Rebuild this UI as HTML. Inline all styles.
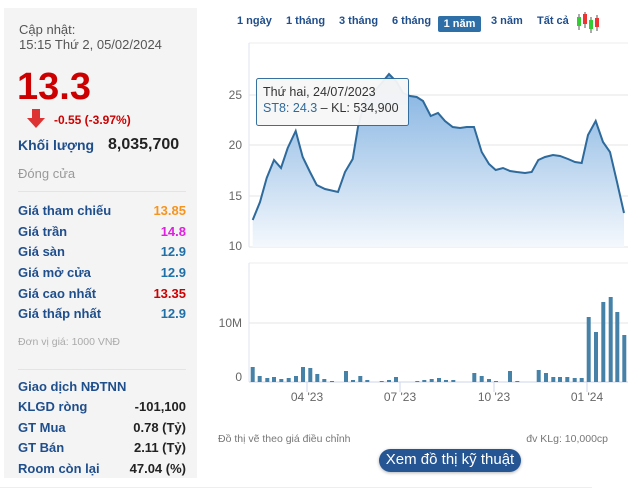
<!DOCTYPE html>
<html><head><meta charset="utf-8"><style>
body{margin:0;width:640px;height:492px;background:#fff;font-family:"Liberation Sans",Arial,sans-serif;position:relative;overflow:hidden}
.a{position:absolute;white-space:nowrap}
.lp{position:absolute;left:4px;top:8px;width:193px;height:470px;background:#f4f4f4}
.lb{color:#1f4e8c;font-weight:bold;font-size:13px}
.rv{font-weight:bold;font-size:13px;text-align:right;right:454px}
.tb{position:absolute;top:15px;font-size:11px;font-weight:bold;color:#1f4e8c}
</style></head><body>
<div class="lp"></div>
<div class="a" style="left:19px;top:22px;font-size:13px;color:#555">Cập nhật:</div>
<div class="a" style="left:19px;top:37px;font-size:13px;color:#555">15:15 Thứ 2, 05/02/2024</div>
<div class="a" style="left:17px;top:66px;font-size:38px;font-weight:bold;color:#cc0000">13.3</div>
<svg class="a" style="left:27px;top:109px" width="18" height="20"><rect x="5" y="0" width="8" height="9" fill="#d33"/><polygon points="0,9 18,9 9,19" fill="#d33"/></svg>
<div class="a" style="left:54px;top:113px;font-size:12px;font-weight:bold;color:#cc0000">-0.55 (-3.97%)</div>
<div class="a lb" style="left:18px;top:137px;font-size:14px">Khối lượng</div>
<div class="a" style="left:108px;top:136px;font-size:16px;font-weight:bold;color:#222">8,035,700</div>
<div class="a" style="left:18px;top:166px;font-size:13px;color:#999">Đóng cửa</div>
<div class="a" style="left:18px;top:191px;width:168px;border-top:1px solid #e4e4e4"></div>
<div class="a lb" style="left:18px;top:203px">Giá tham chiếu</div><div class="a rv" style="top:203px;color:#f7941d">13.85</div>
<div class="a lb" style="left:18px;top:224px">Giá trần</div><div class="a rv" style="top:224px;color:#e020e0">14.8</div>
<div class="a lb" style="left:18px;top:244px">Giá sàn</div><div class="a rv" style="top:244px;color:#1f6fa8">12.9</div>
<div class="a lb" style="left:18px;top:265px">Giá mở cửa</div><div class="a rv" style="top:265px;color:#1f6fa8">12.9</div>
<div class="a lb" style="left:18px;top:286px">Giá cao nhất</div><div class="a rv" style="top:286px;color:#cc0000">13.35</div>
<div class="a lb" style="left:18px;top:306px">Giá thấp nhất</div><div class="a rv" style="top:306px;color:#1f6fa8">12.9</div>
<div class="a" style="left:18px;top:336px;font-size:10.5px;color:#aaa">Đơn vị giá: 1000 VNĐ</div>
<div class="a" style="left:18px;top:369px;width:168px;border-top:1px solid #e4e4e4"></div>
<div class="a lb" style="left:18px;top:379px">Giao dịch NĐTNN</div>
<div class="a lb" style="left:18px;top:399px">KLGD ròng</div><div class="a rv" style="top:399px;color:#222">-101,100</div>
<div class="a lb" style="left:18px;top:420px">GT Mua</div><div class="a rv" style="top:420px;color:#222">0.78 (Tỷ)</div>
<div class="a lb" style="left:18px;top:440px">GT Bán</div><div class="a rv" style="top:440px;color:#222">2.11 (Tỷ)</div>
<div class="a lb" style="left:18px;top:461px">Room còn lại</div><div class="a rv" style="top:461px;color:#222">47.04 (%)</div>
<div class="a" style="left:0;top:487px;width:592px;border-top:1px solid #eee"></div>

<div class="tb" style="left:237px">1 ngày</div>
<div class="tb" style="left:286px">1 tháng</div>
<div class="tb" style="left:339px">3 tháng</div>
<div class="tb" style="left:392px">6 tháng</div>
<div class="tb" style="left:438px;top:16px;width:43px;height:16px;background:#2f6fa8;color:#fff;border-radius:2px;text-align:center;line-height:16px">1 năm</div>
<div class="tb" style="left:491px">3 năm</div>
<div class="tb" style="left:537px">Tất cả</div>
<svg class="a" style="left:576px;top:12px" width="24" height="22"><line x1="3" y1="2" x2="3" y2="18" stroke="#555"/><rect x="1" y="5" width="4" height="9" fill="#3c3"/><line x1="9" y1="0" x2="9" y2="16" stroke="#555"/><rect x="7" y="2" width="4" height="10" fill="#e33"/><line x1="15" y1="5" x2="15" y2="21" stroke="#555"/><rect x="13" y="8" width="4" height="9" fill="#3c3"/><line x1="21" y1="3" x2="21" y2="19" stroke="#555"/><rect x="19" y="6" width="4" height="9" fill="#e33"/></svg>

<svg class="a" style="left:0;top:0" width="640" height="492">
<defs><linearGradient id="g" x1="0" y1="0" x2="0" y2="1"><stop offset="0" stop-color="#7fb0e0"/><stop offset="1" stop-color="#f4f8fd"/></linearGradient></defs>
<line x1="249" y1="43" x2="628" y2="43" stroke="#eee"/>
<line x1="249" y1="95" x2="628" y2="95" stroke="#e6e6e6"/>
<line x1="249" y1="145" x2="628" y2="145" stroke="#e6e6e6"/>
<line x1="249" y1="196" x2="628" y2="196" stroke="#e6e6e6"/>
<line x1="249" y1="247" x2="628" y2="247" stroke="#e6e6e6"/>
<line x1="249" y1="43" x2="249" y2="247" stroke="#dde3f0"/>
<g font-size="12" fill="#666" text-anchor="end"><text x="242" y="99">25</text><text x="242" y="149">20</text><text x="242" y="200">15</text><text x="242" y="250">10</text></g>
<path d="M252.7,220 L260,202 266.7,178 274,160 281,168 287.7,148 295.7,131 302.7,157 310,172 316.7,185 325,189 338,192 345,172 352.7,159 358,127 365,100 373,93 381.7,83 389,74 396.7,82 403,93 410,96 416.7,97 423,101 430.7,116 438,113 445,121 452.7,127 460,128 466.7,127 474,127 481.7,152 489,164 495.7,170 503,168 510,171 516.7,172 525,173 531.7,172 538.3,160 545,157 553,155 560,156 568,159 575,162 581.7,163 588,135 595.7,121 603,142 610,152 617,182 624,213 L624,247 L252.7,247 Z" fill="url(#g)"/>
<polyline fill="none" stroke="#2e6a9b" stroke-width="2" points="252.7,220 260,202 266.7,178 274,160 281,168 287.7,148 295.7,131 302.7,157 310,172 316.7,185 325,189 338,192 345,172 352.7,159 358,127 365,100 373,93 381.7,83 389,74 396.7,82 403,93 410,96 416.7,97 423,101 430.7,116 438,113 445,121 452.7,127 460,128 466.7,127 474,127 481.7,152 489,164 495.7,170 503,168 510,171 516.7,172 525,173 531.7,172 538.3,160 545,157 553,155 560,156 568,159 575,162 581.7,163 588,135 595.7,121 603,142 610,152 617,182 624,213"/>
<rect x="256.5" y="78.5" width="152" height="47" fill="#f7f7f7" stroke="#2e6a9b" rx="2" opacity="0.95"/>
<text x="263" y="96" font-size="12.5" fill="#333">Thứ hai, 24/07/2023</text>
<text x="263" y="112" font-size="12.5" fill="#333"><tspan fill="#2e6a9b">ST8: 24.3</tspan> – KL: 534,900</text>

<line x1="249" y1="263" x2="628" y2="263" stroke="#eee"/>
<line x1="249" y1="323" x2="628" y2="323" stroke="#e6e6e6"/>
<line x1="249" y1="263" x2="249" y2="382" stroke="#dde3f0"/>
<line x1="249" y1="382" x2="628" y2="382" stroke="#ccd6eb"/>
<g font-size="12" fill="#666" text-anchor="end"><text x="242" y="327">10M</text><text x="242" y="381">0</text></g>
<g stroke="#ccd6eb"><line x1="307" y1="382" x2="307" y2="392"/><line x1="400" y1="382" x2="400" y2="392"/><line x1="494" y1="382" x2="494" y2="392"/><line x1="587" y1="382" x2="587" y2="392"/></g>
<g font-size="12" fill="#666" text-anchor="middle"><text x="307" y="401">04 '23</text><text x="400" y="401">07 '23</text><text x="494" y="401">10 '23</text><text x="587" y="401">01 '24</text></g>
<g fill="#4682a8">
<rect x="250.7" y="367" width="4" height="15"/><rect x="257.7" y="376" width="4" height="6"/><rect x="265.3" y="378" width="4" height="4"/><rect x="272" y="377" width="4" height="5"/><rect x="279.3" y="379" width="4" height="3"/><rect x="286.7" y="378" width="4" height="4"/><rect x="294" y="376" width="4" height="6"/><rect x="301" y="367" width="4" height="15"/><rect x="308.3" y="368" width="4" height="14"/><rect x="315.3" y="374" width="4" height="8"/><rect x="322.3" y="379" width="4" height="3"/><rect x="330" y="381" width="4" height="1"/><rect x="344" y="371" width="4" height="11"/><rect x="351" y="380" width="4" height="2"/><rect x="358.3" y="376" width="4" height="6"/><rect x="365.3" y="380" width="4" height="2"/><rect x="379.7" y="381" width="4" height="1"/><rect x="387" y="380" width="4" height="2"/><rect x="394" y="377" width="4" height="5"/><rect x="415.3" y="381" width="4" height="1"/><rect x="422.3" y="380" width="4" height="2"/><rect x="429.7" y="379" width="4" height="3"/><rect x="437" y="378" width="4" height="4"/><rect x="444" y="380" width="4" height="2"/><rect x="451.3" y="380" width="4" height="2"/><rect x="472.3" y="373" width="4" height="9"/><rect x="479.7" y="376" width="4" height="6"/><rect x="487" y="379" width="4" height="3"/><rect x="494" y="381" width="4" height="1"/><rect x="508" y="371" width="4" height="11"/><rect x="515.3" y="381" width="4" height="1"/><rect x="536.7" y="370" width="4" height="12"/><rect x="544" y="373" width="4" height="9"/><rect x="551.3" y="377" width="4" height="5"/><rect x="558" y="377" width="4" height="5"/><rect x="565.3" y="377" width="4" height="5"/><rect x="572.7" y="378" width="4" height="4"/><rect x="579.7" y="378" width="4" height="4"/><rect x="586.7" y="317" width="4" height="65"/><rect x="594" y="332" width="4" height="50"/><rect x="601.3" y="302" width="4" height="80"/><rect x="608.7" y="297" width="4" height="85"/><rect x="615.3" y="312" width="4" height="70"/><rect x="622.3" y="335" width="4" height="47"/>
</g>
<text x="218" y="442" font-size="10.5" fill="#777">Đồ thị vẽ theo giá điều chỉnh</text>
<text x="608" y="442" font-size="10.5" fill="#777" text-anchor="end">đv KLg: 10,000cp</text>
</svg>
<div class="a" style="left:379px;top:449px;width:142px;height:23px;background:#255593;border-radius:12px;color:#fff;font-size:15px;text-align:center;line-height:22px;box-shadow:0 1px 3px rgba(0,0,0,.3)">Xem đồ thị kỹ thuật</div>
</body></html>
